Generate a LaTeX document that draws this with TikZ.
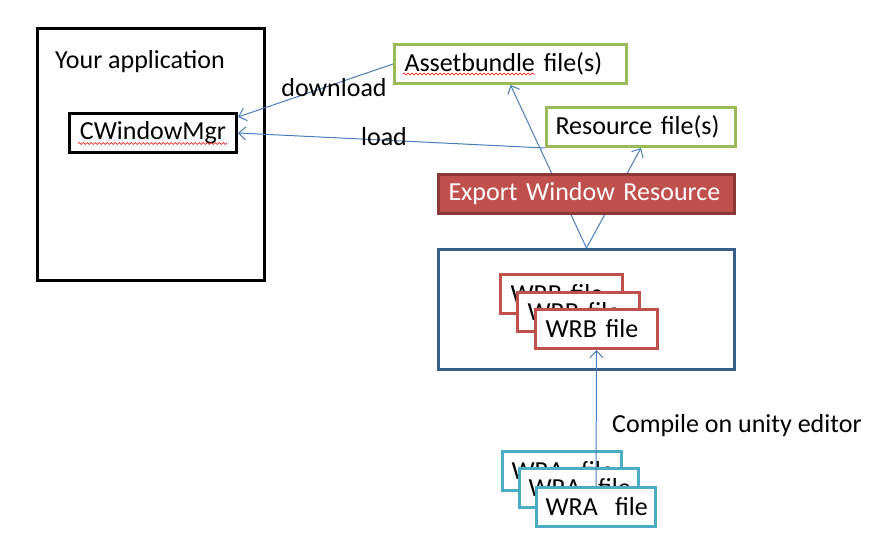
\documentclass[tikz,border=0pt]{standalone}
\usepackage{fontspec}
\setmainfont{Carlito}
\usetikzlibrary{arrows.meta,decorations.pathmorphing}
\definecolor{boxgreen}{HTML}{9BBB59}
\definecolor{boxred}{HTML}{C0504D}
\definecolor{boxredd}{HTML}{8C3836}
\definecolor{boxblue}{HTML}{385D8A}
\definecolor{boxcyan}{HTML}{4BACC6}
\definecolor{arrblue}{HTML}{4A7EBB}
\tikzset{
  base/.style={draw, line width=3pt, rectangle, inner sep=0pt, fill=white, font=\fontsize{26}{30}\selectfont},
  blackbox/.style={base, draw=black},
  greenbox/.style={base, draw=boxgreen},
  redfile/.style={base, draw=boxred, minimum width=122pt, minimum height=39pt, text width=102pt, align=left, inner xsep=10pt},
  cyanfile/.style={base, draw=boxcyan, minimum width=119pt, minimum height=39pt, text width=101pt, align=left, inner xsep=9pt},
  arr/.style={draw=arrblue, line width=1pt, -{Straight Barb[length=7pt,width=13pt]}},
  lbl/.style={font=\fontsize{26}{30}\selectfont, inner sep=0pt},
  squig/.style={draw=red, line width=0.6pt, decorate, decoration={snake, amplitude=1pt, segment length=4pt}}
}
\begin{document}
\begin{tikzpicture}[x=1pt,y=-1pt]
\useasboundingbox (0,0) rectangle (890,546);
% application
\node[blackbox, minimum width=227pt, minimum height=252pt] (app) at (151,154.5) {};
\node[lbl] (apptxt) at (140,62) {Your application};
\node[blackbox, minimum width=167pt, minimum height=39pt] (cw) at (153,133) {CWindowMgr};
% green boxes
\node[greenbox, minimum width=232pt, minimum height=39pt, text width=212pt, align=left, inner xsep=10pt] (asset) at (510.5,64) {Assetbundle file(s)};
\node[greenbox, minimum width=189pt, minimum height=39pt, text width=171pt, align=left, inner xsep=9pt] (res) at (641,127) {Resource file(s)};
% blue container
\node[base, draw=boxblue, minimum width=296pt, minimum height=120pt] (blue) at (586.5,309.5) {};
% WRB files
\node[redfile, anchor=north west] (wrb1) at (499,273) {WRB file};
\node[redfile, anchor=north west] (wrb2) at (516,291) {WRB file};
\node[redfile, anchor=north west] (wrb3) at (534,308) {WRB file};
% WRA files
\node[cyanfile, anchor=north west] (wra1) at (501,450) {\mbox{WRA\ \ file}};
\node[cyanfile, anchor=north west] (wra2) at (518,467) {\mbox{WRA\ \ file}};
\node[cyanfile, anchor=north west] (wra3) at (535,486) {\mbox{WRA\ \ file}};
% spelling marks
\draw[squig] (78,143.5) -- (227,143.5);
\draw[squig] (403,74) -- (535,74);
% connectors behind export box
\draw[arr] (blue.north) -- (asset.south);
\draw[arr] (blue.north) -- (res.south);
% export box
\node[base, draw=boxredd, fill=boxred, text=white, minimum width=296pt, minimum height=39pt, text width=276pt, align=left, inner xsep=10pt] (exp) at (586.5,194) {Export Window Resource};
% other connectors
\draw[arr] (asset.west) -- ([yshift=16pt]cw.east);
\draw[arr] (res.south west) -- (cw.east);
\draw[arr] (wra3.north) -- (wrb3.south);
% labels
\node[lbl] (dl) at (334,88) {download};
\node[lbl] (ld) at (384,137) {load};
\node[lbl, anchor=west] (comp) at (612,426) {Compile on unity editor};
\end{tikzpicture}
\end{document}
